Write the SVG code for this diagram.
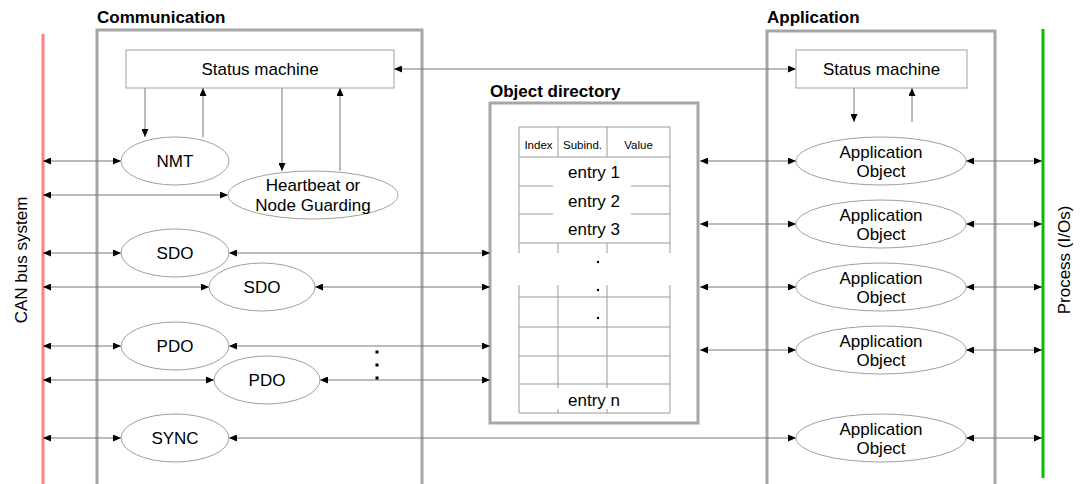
<svg xmlns="http://www.w3.org/2000/svg" width="1084" height="484" viewBox="0 0 1084 484">
<style>
text{font-family:"Liberation Sans",Arial,sans-serif;fill:#000}
.lbl{font-size:17px;font-weight:bold}
.t{font-size:17px;text-anchor:middle}
.th{font-size:11.5px;text-anchor:middle}
.box{fill:none;stroke:#a6a6a6;stroke-width:3}
.sm{fill:#fff;stroke:#a0a0a0;stroke-width:1}
.el{fill:#fff;stroke:#a0a0a0;stroke-width:1}
.c{fill:none;stroke:#777;stroke-width:1}
.b{marker-start:url(#a);marker-end:url(#a)}
.e{marker-end:url(#a)}
.tb{stroke:#999;stroke-width:1;fill:none}
</style>
<defs>
<marker id="a" markerUnits="userSpaceOnUse" markerWidth="9" markerHeight="7" refX="8" refY="3.5" orient="auto-start-reverse" viewBox="0 0 9 7">
<path d="M0,0 L8,3.5 L0,7 z" fill="#000"/>
</marker>
</defs>
<rect width="1084" height="484" fill="#fff"/>
<g id="can-bus">
<line x1="43" y1="34" x2="43" y2="484" stroke="#ff8080" stroke-width="3"/>
<text transform="translate(27,260) rotate(-90)" class="t">CAN bus system</text>
</g>
<g id="process">
<line x1="1043" y1="29" x2="1043" y2="478" stroke="#00c000" stroke-width="3"/>
<text transform="translate(1070,260) rotate(-90)" class="t">Process (I/Os)</text>
</g>
<g id="communication">
<rect x="97" y="30" width="325" height="470" class="box"/>
<text x="97" y="23" class="lbl">Communication</text>
</g>
<g id="application">
<rect x="767" y="31" width="228" height="470" class="box"/>
<text x="767" y="23" class="lbl">Application</text>
</g>
<g id="object-directory">
<rect x="490" y="103" width="208" height="320" class="box" style="fill:#fff"/>
<text x="490" y="97" class="lbl">Object directory</text>
<path class="tb" d="M519,127H670M519,157H670M519,186H553M631,186H670M519,214H553M631,214H670M519,243H670M519,297H670M519,327H670M519,356H670M519,384H670M519,413H670"/>
<path class="tb" d="M519,127V253M670,127V253M558,127V157M607,127V157M558,243V253M607,243V253M519,285V413M670,285V413M558,285V388M607,285V388M558,409V413M607,409V413"/>
<text x="538.5" y="149" class="th">Index</text>
<text x="582.5" y="149" class="th">Subind.</text>
<text x="638.5" y="149" class="th">Value</text>
<text x="594" y="178" class="t">entry 1</text>
<text x="594" y="207" class="t">entry 2</text>
<text x="594" y="235" class="t">entry 3</text>
<circle cx="598" cy="262" r="1.2"/>
<circle cx="598" cy="290" r="1.2"/>
<circle cx="598" cy="318" r="1.2"/>
<text x="594" y="406" class="t">entry n</text>
</g>
<g id="connectors">
<line class="c b" x1="394" y1="69" x2="796" y2="69"/>
<line class="c e" x1="145" y1="88" x2="145" y2="137"/>
<line class="c e" x1="203" y1="137" x2="203" y2="88"/>
<line class="c e" x1="282" y1="88" x2="282" y2="171"/>
<line class="c e" x1="340" y1="171" x2="340" y2="88"/>
<line class="c e" x1="854" y1="88" x2="854" y2="122"/>
<line class="c e" x1="912" y1="122" x2="912" y2="88"/>
<line class="c b" x1="43" y1="161" x2="121" y2="161"/>
<line class="c b" x1="43" y1="195" x2="228" y2="195"/>
<line class="c b" x1="43" y1="253" x2="121" y2="253"/>
<line class="c b" x1="229" y1="253" x2="490" y2="253"/>
<line class="c b" x1="43" y1="287" x2="209" y2="287"/>
<line class="c b" x1="315" y1="287" x2="490" y2="287"/>
<line class="c b" x1="43" y1="346" x2="121" y2="346"/>
<line class="c b" x1="229" y1="346" x2="490" y2="346"/>
<line class="c b" x1="43" y1="380" x2="214" y2="380"/>
<line class="c b" x1="320" y1="380" x2="490" y2="380"/>
<line class="c b" x1="43" y1="438" x2="121" y2="438"/>
<line class="c b" x1="229" y1="438" x2="796" y2="438"/>
<line class="c b" x1="700" y1="161" x2="796" y2="161"/>
<line class="c b" x1="700" y1="224" x2="796" y2="224"/>
<line class="c b" x1="700" y1="287" x2="796" y2="287"/>
<line class="c b" x1="700" y1="350" x2="796" y2="350"/>
<line class="c b" x1="966" y1="161" x2="1042" y2="161"/>
<line class="c b" x1="966" y1="224" x2="1042" y2="224"/>
<line class="c b" x1="966" y1="287" x2="1042" y2="287"/>
<line class="c b" x1="966" y1="350" x2="1042" y2="350"/>
<line class="c b" x1="966" y1="438" x2="1042" y2="438"/>
<rect x="375.5" y="350.5" width="3" height="3"/>
<rect x="375.5" y="363.5" width="3" height="3"/>
<rect x="375.5" y="376.5" width="3" height="3"/>
</g>
<g id="comm-status-machine">
<rect x="126" y="50" width="268" height="38" class="sm"/>
<text x="260" y="75" class="t">Status machine</text>
</g>
<g id="app-status-machine">
<rect x="796" y="50" width="171" height="38" class="sm"/>
<text x="881.5" y="75" class="t">Status machine</text>
</g>
<g id="nmt"><ellipse cx="175" cy="161" rx="54" ry="24" class="el"/><text x="175" y="167" class="t">NMT</text></g>
<g id="heartbeat"><ellipse cx="313" cy="195" rx="85" ry="24" class="el"/><text x="313" y="191" class="t">Heartbeat or</text><text x="313" y="211" class="t">Node Guarding</text></g>
<g id="sdo1"><ellipse cx="175" cy="253" rx="54" ry="24" class="el"/><text x="175" y="259" class="t">SDO</text></g>
<g id="sdo2"><ellipse cx="262" cy="287" rx="53" ry="24" class="el"/><text x="262" y="293" class="t">SDO</text></g>
<g id="pdo1"><ellipse cx="175" cy="346" rx="54" ry="24" class="el"/><text x="175" y="352" class="t">PDO</text></g>
<g id="pdo2"><ellipse cx="267" cy="380" rx="53" ry="24" class="el"/><text x="267" y="386" class="t">PDO</text></g>
<g id="sync"><ellipse cx="175" cy="438" rx="54" ry="24" class="el"/><text x="175" y="444" class="t">SYNC</text></g>
<g id="app-obj1"><ellipse cx="881" cy="161" rx="85" ry="24" class="el"/><text x="881" y="158" class="t">Application</text><text x="881" y="177" class="t">Object</text></g>
<g id="app-obj2"><ellipse cx="881" cy="224" rx="85" ry="24" class="el"/><text x="881" y="221" class="t">Application</text><text x="881" y="240" class="t">Object</text></g>
<g id="app-obj3"><ellipse cx="881" cy="287" rx="85" ry="24" class="el"/><text x="881" y="284" class="t">Application</text><text x="881" y="303" class="t">Object</text></g>
<g id="app-obj4"><ellipse cx="881" cy="350" rx="85" ry="24" class="el"/><text x="881" y="347" class="t">Application</text><text x="881" y="366" class="t">Object</text></g>
<g id="app-obj5"><ellipse cx="881" cy="438" rx="85" ry="24" class="el"/><text x="881" y="435" class="t">Application</text><text x="881" y="454" class="t">Object</text></g>
</svg>
